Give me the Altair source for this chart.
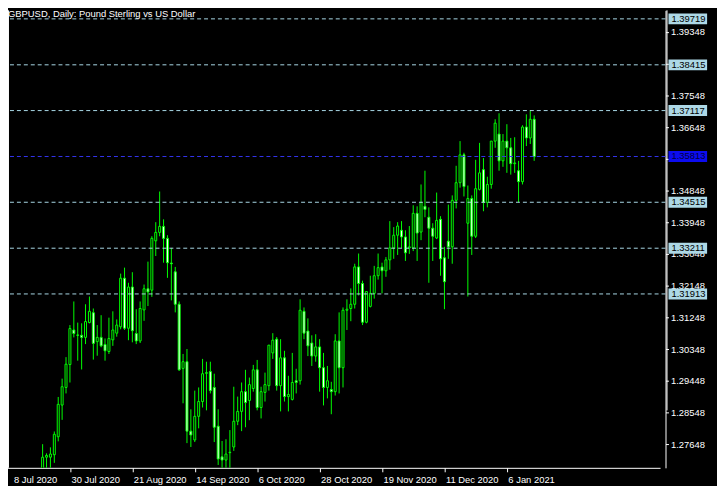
import altair as alt
import pandas as pd

# ---- data (GBPUSD daily, 8 Jul 2020 .. 15 Jan 2021) ----
opens = [1.2540, 1.2595, 1.2610, 1.2620, 1.2560, 1.2565, 1.2575, 1.2565, 1.2570, 1.2650,
         1.2728, 1.2728, 1.2735, 1.2786, 1.2876, 1.2926, 1.2991, 1.3089, 1.3075, 1.3074,
         1.3068, 1.3110, 1.3138, 1.3056, 1.3068, 1.3048, 1.3028, 1.3061, 1.3080, 1.3098,
         1.3236, 1.3094, 1.3211, 1.3079, 1.3058, 1.3146, 1.3206, 1.3202, 1.3342, 1.3366,
         1.3383, 1.3349, 1.3279, 1.3254, 1.3162, 1.2980, 1.2999, 1.2802, 1.2777, 1.2844,
         1.2886, 1.2966, 1.2971, 1.2926, 1.2816, 1.2729, 1.2720, 1.2741, 1.2757, 1.2830,
         1.2858, 1.2914, 1.2889, 1.2923, 1.2976, 1.2869, 1.2912, 1.2931, 1.3024, 1.3063,
         1.2931, 1.3010, 1.2900, 1.2892, 1.2945, 1.2945, 1.3142, 1.3086, 1.3052, 1.3015,
         1.3041, 1.2982, 1.2926, 1.2920, 1.2914, 1.3058, 1.2982, 1.3145, 1.3150, 1.3162,
         1.3268, 1.3221, 1.3111, 1.3156, 1.3193, 1.3243, 1.3268, 1.3257, 1.3288, 1.3322,
         1.3358, 1.3372, 1.3353, 1.3322, 1.3322, 1.3420, 1.3367, 1.3440, 1.3409, 1.3378,
         1.3350, 1.3403, 1.3294, 1.3341, 1.3325, 1.3457, 1.3507, 1.3586, 1.3392, 1.3462,
         1.3355, 1.3488, 1.3544, 1.3451, 1.3502, 1.3625, 1.3645, 1.3569, 1.3625, 1.3606,
         1.3561, 1.3541, 1.3510, 1.3665, 1.3634, 1.3687]
highs = [1.2600, 1.2660, 1.2640, 1.2665, 1.2600, 1.2665, 1.2600, 1.2590, 1.2665, 1.2765,
         1.2739, 1.2756, 1.2801, 1.2899, 1.2951, 1.3012, 1.3103, 1.3170, 1.3110, 1.3108,
         1.3162, 1.3184, 1.3150, 1.3103, 1.3131, 1.3065, 1.3124, 1.3142, 1.3119, 1.3249,
         1.3266, 1.3223, 1.3253, 1.3148, 1.3170, 1.3218, 1.3283, 1.3355, 1.3395, 1.3482,
         1.3403, 1.3358, 1.3322, 1.3268, 1.3170, 1.3021, 1.3035, 1.2864, 1.2917, 1.2926,
         1.3007, 1.2999, 1.2999, 1.2965, 1.2864, 1.2774, 1.2779, 1.2805, 1.2928, 1.2900,
         1.2940, 1.2976, 1.2954, 1.2990, 1.3004, 1.2928, 1.2968, 1.3046, 1.3080, 1.3069,
         1.3063, 1.3030, 1.2959, 1.3024, 1.2979, 1.3176, 1.3153, 1.3122, 1.3074, 1.3077,
         1.3063, 1.3024, 1.2987, 1.2942, 1.3077, 1.3139, 1.3153, 1.3176, 1.3207, 1.3277,
         1.3306, 1.3229, 1.3198, 1.3243, 1.3271, 1.3306, 1.3280, 1.3296, 1.3398, 1.3381,
         1.3395, 1.3398, 1.3372, 1.3384, 1.3443, 1.3440, 1.3502, 1.3541, 1.3437, 1.3392,
         1.3479, 1.3412, 1.3325, 1.3445, 1.3471, 1.3555, 1.3625, 1.3592, 1.3499, 1.3471,
         1.3572, 1.3620, 1.3577, 1.3524, 1.3625, 1.3687, 1.3704, 1.3645, 1.3673, 1.3634,
         1.3636, 1.3569, 1.3670, 1.3701, 1.3712, 1.3698]
lows = [1.2530, 1.2580, 1.2565, 1.2550, 1.2480, 1.2545, 1.2520, 1.2515, 1.2560, 1.2645,
        1.2660, 1.2660, 1.2712, 1.2773, 1.2834, 1.2909, 1.2940, 1.3068, 1.3002, 1.2977,
        1.3049, 1.3108, 1.3005, 1.3016, 1.3040, 1.3002, 1.3021, 1.3044, 1.3070, 1.3091,
        1.3089, 1.3060, 1.3054, 1.3049, 1.3052, 1.3115, 1.3157, 1.3183, 1.3299, 1.3355,
        1.3280, 1.3237, 1.3173, 1.3139, 1.2973, 1.2881, 1.2768, 1.2757, 1.2771, 1.2810,
        1.2869, 1.2861, 1.2909, 1.2771, 1.2706, 1.2660, 1.2668, 1.2670, 1.2746, 1.2819,
        1.2802, 1.2813, 1.2833, 1.2914, 1.2861, 1.2838, 1.2886, 1.2917, 1.3007, 1.2917,
        1.2858, 1.2886, 1.2858, 1.2889, 1.2909, 1.2934, 1.3063, 1.3015, 1.2987, 1.2999,
        1.2914, 1.2875, 1.2895, 1.2850, 1.2903, 1.2909, 1.2926, 1.3089, 1.3114, 1.3150,
        1.3187, 1.3103, 1.3108, 1.3153, 1.3178, 1.3232, 1.3193, 1.3240, 1.3260, 1.3291,
        1.3302, 1.3322, 1.3285, 1.3305, 1.3313, 1.3285, 1.3344, 1.3409, 1.3223, 1.3285,
        1.3347, 1.3243, 1.3148, 1.3291, 1.3277, 1.3434, 1.3493, 1.3468, 1.3184, 1.3302,
        1.3350, 1.3485, 1.3426, 1.3437, 1.3490, 1.3606, 1.3541, 1.3552, 1.3535, 1.3530,
        1.3535, 1.3451, 1.3502, 1.3611, 1.3617, 1.3569]
closes = [1.2595, 1.2610, 1.2620, 1.2560, 1.2565, 1.2575, 1.2565, 1.2570, 1.2650, 1.2728,
          1.2733, 1.2737, 1.2793, 1.2878, 1.2928, 1.2992, 1.3093, 1.3079, 1.3074, 1.3068,
          1.3113, 1.3142, 1.3051, 1.3068, 1.3044, 1.3030, 1.3065, 1.3089, 1.3103, 1.3236,
          1.3094, 1.3211, 1.3087, 1.3058, 1.3150, 1.3206, 1.3197, 1.3349, 1.3366, 1.3383,
          1.3349, 1.3280, 1.3277, 1.3162, 1.2976, 1.2999, 1.2802, 1.2791, 1.2844, 1.2886,
          1.2965, 1.2968, 1.2917, 1.2813, 1.2723, 1.2720, 1.2737, 1.2742, 1.2830, 1.2858,
          1.2914, 1.2883, 1.2934, 1.2976, 1.2869, 1.2914, 1.2934, 1.3046, 1.3060, 1.2931,
          1.3010, 1.2900, 1.2906, 1.2940, 1.2940, 1.3145, 1.3080, 1.3044, 1.3015, 1.3041,
          1.2982, 1.2926, 1.2945, 1.2914, 1.3058, 1.2982, 1.3145, 1.3148, 1.3162, 1.3268,
          1.3221, 1.3111, 1.3198, 1.3193, 1.3243, 1.3266, 1.3257, 1.3288, 1.3322, 1.3358,
          1.3384, 1.3353, 1.3308, 1.3325, 1.3420, 1.3364, 1.3451, 1.3431, 1.3378, 1.3355,
          1.3400, 1.3291, 1.3226, 1.3325, 1.3457, 1.3507, 1.3586, 1.3496, 1.3462, 1.3355,
          1.3490, 1.3535, 1.3451, 1.3502, 1.3625, 1.3676, 1.3569, 1.3625, 1.3606, 1.3561,
          1.3563, 1.3510, 1.3665, 1.3634, 1.3687, 1.3581]

tick_bars = [0, 16, 32, 48, 64, 80, 96, 112, 128]
tick_labels = ["8 Jul 2020", "30 Jul 2020", "21 Aug 2020", "14 Sep 2020", "6 Oct 2020",
               "28 Oct 2020", "19 Nov 2020", "11 Dec 2020", "6 Jan 2021"]
price_ticks = [1.27648, 1.28548, 1.29448, 1.30348, 1.31248, 1.32148, 1.33048,
               1.33948, 1.34848, 1.35748, 1.36648, 1.37548, 1.38448, 1.39348]
levels = [1.39719, 1.38415, 1.37117, 1.34515, 1.33211, 1.31913]
bid = [1.35813]
title_text = ["GBPUSD, Daily:  Pound Sterling vs US Dollar"]

FONT = "Liberation Sans"
GREEN = "#00FF00"
W, H = 664, 462

df = pd.DataFrame({"i": list(range(len(opens))), "open": opens, "high": highs,
                   "low": lows, "close": closes})
lv = pd.DataFrame({"level": levels})
bd = pd.DataFrame({"level": bid})
tt = pd.DataFrame({"t": title_text})

# 4 px per daily bar; the first bar sits just left of the visible plot area
xs = alt.Scale(domain=[0, 166], range=[-5.5, 658.5], nice=False, zero=False)
ys = alt.Scale(domain=[1.26979, 1.399612], nice=False, zero=False)

label_js = "[" + ",".join("'%s'" % t for t in tick_labels) + "]"
x_axis = alt.Axis(values=tick_bars, labelExpr=label_js + "[round(datum.value/16)]",
                  labelAlign="left", labelPadding=3, tickSize=4, labelFlush=False,
                  labelOverlap=False, grid=False, tickCount=40,
                  labelOffset={"condition": {"test": "datum.value === 0", "value": 6}, "value": 1})
y_axis = alt.Axis(values=price_ticks, format=".5f", orient="right", tickSize=3,
                  labelPadding=2, grid=False, labelOverlap=False, labelFlush=False,
                  tickCount=40)

base = alt.Chart(df)
wicks = base.mark_rule(color=GREEN, strokeWidth=1, clip=True).encode(
    x=alt.X("i:Q", scale=xs, axis=x_axis, title=None),
    y=alt.Y("low:Q", scale=ys, axis=y_axis, title=None),
    y2="high:Q",
)
bodies = base.mark_bar(size=2, stroke=GREEN, strokeWidth=1, clip=True).encode(
    x=alt.X("i:Q", scale=xs, title=None),
    y=alt.Y("open:Q", scale=ys, title=None),
    y2="close:Q",
    fill=alt.condition("datum.close < datum.open", alt.value("#FFFFFF"), alt.value("#000000")),
)
lines = alt.Chart(lv).mark_rule(color="#A8D8E6", strokeWidth=1, strokeDash=[4, 3]).encode(
    y=alt.Y("level:Q", scale=ys, title=None))
bid_line = alt.Chart(bd).mark_rule(color="#3434F0", strokeWidth=1, strokeDash=[4, 3]).encode(
    y=alt.Y("level:Q", scale=ys, title=None))

box_path = "M0,-5.5H39V5.5H0Z"
boxes = alt.Chart(lv).mark_point(shape=box_path, size=4, filled=True, fill="#ADD8E6",
                                 opacity=1, strokeWidth=0).encode(
    x=alt.value(667), y=alt.Y("level:Q", scale=ys, title=None))
box_text = alt.Chart(lv).mark_text(align="left", baseline="middle", font=FONT,
                                   fontSize=9.5, color="#000000").encode(
    x=alt.value(670), y=alt.Y("level:Q", scale=ys, title=None),
    text=alt.Text("level:Q", format=".5f"))
bid_box = alt.Chart(bd).mark_point(shape=box_path, size=4, filled=True, fill="#0C0CF0",
                                   opacity=1, strokeWidth=0).encode(
    x=alt.value(667), y=alt.Y("level:Q", scale=ys, title=None))
bid_text = alt.Chart(bd).mark_text(align="left", baseline="middle", font=FONT,
                                   fontSize=9.5, color="#000040").encode(
    x=alt.value(670), y=alt.Y("level:Q", scale=ys, title=None),
    text=alt.Text("level:Q", format=".5f"))

title = alt.Chart(tt).mark_text(align="left", baseline="alphabetic", font=FONT,
                                fontSize=9.5, color="#FFFFFF").encode(
    x=alt.value(0), y=alt.value(7), text="t:N")
left_frame = alt.Chart(tt).mark_rule(color="#FFFFFF", strokeWidth=1).encode(
    x=alt.value(0.5), y=alt.value(0), y2=alt.value(H))
axis_thick = alt.Chart(tt).mark_rule(color="#FFFFFF", strokeWidth=1).encode(
    x=alt.value(W + 1.5), y=alt.value(0), y2=alt.value(404))

chart = alt.layer(
    wicks, bodies, lines, bid_line, boxes, box_text, bid_box, bid_text,
    title, left_frame, axis_thick,
).properties(
    width=W, height=H, autosize="none",
    padding={"left": 0, "top": 0, "right": 52, "bottom": 16},
).configure(background="#000000").configure_view(stroke=None, fill="#000000").configure_axis(
    labelFont=FONT, labelFontSize=9.5, labelColor="#FFFFFF", tickColor="#FFFFFF",
    domainColor="#FFFFFF", domainWidth=1, tickWidth=1, grid=False, labelOverlap=False,
)

chart.save("out.html", embed_options={"renderer": "svg", "actions": False})
